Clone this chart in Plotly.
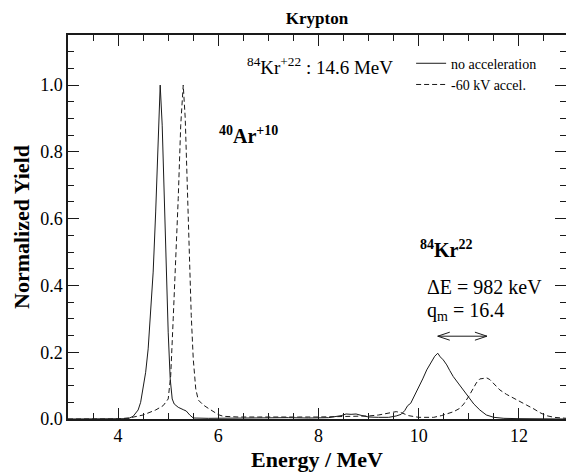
import plotly.graph_objects as go

# Energy spectra of the 84Kr+22 beam (14.6 MeV), normalized yield
energy_no_acc = [3.0, 4.0, 4.2, 4.3, 4.4, 4.45, 4.5, 4.55, 4.6, 4.65, 4.7, 4.75, 4.8, 4.84,
                 4.88, 4.92, 4.96, 5.0, 5.04, 5.08, 5.12, 5.2, 5.3, 5.36, 5.43, 5.5, 5.8,
                 6.2, 6.6, 7.0, 7.4, 7.8, 8.2, 8.45, 8.55, 8.65, 8.75, 8.85, 9.0, 9.2, 9.4,
                 9.55, 9.65, 9.72, 9.78, 9.84, 9.92, 10.0, 10.08, 10.16, 10.24, 10.32, 10.38,
                 10.43, 10.49, 10.56, 10.62, 10.69, 10.8, 10.9, 11.0, 11.1, 11.22, 11.35,
                 11.5, 11.7, 12.0, 12.5, 12.95]
yield_no_acc = [0.0, 0.0, 0.001, 0.008, 0.027, 0.05, 0.09, 0.14, 0.21, 0.32, 0.44, 0.62, 0.86,
                1.0, 0.88, 0.66, 0.42, 0.26, 0.12, 0.06, 0.045, 0.035, 0.028, 0.024, 0.012,
                0.003, 0.002, 0.003, 0.002, 0.003, 0.004, 0.003, 0.004, 0.010, 0.015, 0.014,
                0.015, 0.011, 0.006, 0.005, 0.005, 0.009, 0.014, 0.025, 0.04, 0.047, 0.07,
                0.097, 0.12, 0.147, 0.168, 0.188, 0.197, 0.186, 0.177, 0.162, 0.145, 0.127,
                0.105, 0.085, 0.066, 0.045, 0.027, 0.012, 0.005, 0.002, 0.001, 0.0, 0.0]

energy_acc = [3.0, 4.0, 4.25, 4.5, 4.75, 4.9, 5.0, 5.05, 5.1, 5.15, 5.2, 5.25, 5.3, 5.34,
              5.38, 5.42, 5.46, 5.5, 5.55, 5.6, 5.7, 5.8, 5.9, 6.0, 6.1, 6.4, 6.8, 7.2, 7.6,
              8.0, 8.4, 8.8, 9.0, 9.2, 9.4, 9.55, 9.65, 9.8, 10.0, 10.3, 10.45, 10.56, 10.7,
              10.82, 10.9, 11.0, 11.08, 11.15, 11.22, 11.3, 11.36, 11.42, 11.5, 11.62, 11.75,
              11.89, 12.0, 12.15, 12.3, 12.42, 12.55, 12.7, 12.95]
yield_acc = [0.0, 0.0, 0.004, 0.012, 0.027, 0.04, 0.06, 0.13, 0.30, 0.47, 0.66, 0.88, 1.0,
             0.90, 0.68, 0.46, 0.31, 0.18, 0.09, 0.057, 0.042, 0.032, 0.022, 0.013, 0.008,
             0.006, 0.006, 0.005, 0.006, 0.006, 0.007, 0.008, 0.009, 0.012, 0.019, 0.022,
             0.019, 0.01, 0.005, 0.005, 0.01, 0.015, 0.022, 0.032, 0.045, 0.068, 0.09,
             0.108, 0.12, 0.123, 0.123, 0.118, 0.105, 0.087, 0.074, 0.062, 0.055, 0.042,
             0.03, 0.019, 0.01, 0.005, 0.002]

series_names = ["no acceleration", "-60 kV accel."]

# Energy shift of the Kr peak between the two settings
kr_peak_energy = 10.38      # MeV, peak without acceleration
delta_e_kev = 982
q_m = 16.4
arrow_level = 0.248

SERIF = "Liberation Serif"
INK = "#1a1a1a"
X_RANGE = [3, 12.94]
Y_RANGE = [0, 1.15]


def serif(size):
    return dict(family=SERIF, size=size, color="black")


fig = go.Figure()
fig.add_trace(go.Scatter(x=energy_no_acc, y=yield_no_acc, mode="lines",
                         name=series_names[0],
                         line=dict(color=INK, width=1)))
fig.add_trace(go.Scatter(x=energy_acc, y=yield_acc, mode="lines",
                         name=series_names[1],
                         line=dict(color=INK, width=1, dash="5px,3px")))

# double-headed arrow spanning the energy shift
x1 = kr_peak_energy
x2 = kr_peak_energy + delta_e_kev / 1000.0
hx, hy = 0.24, 0.012
fig.add_trace(go.Scatter(
    x=[x1, x2, None, x1 + hx, x1, x1 + hx, None, x2 - hx, x2, x2 - hx],
    y=[arrow_level, arrow_level, None, arrow_level + hy, arrow_level, arrow_level - hy,
       None, arrow_level + hy, arrow_level, arrow_level - hy],
    mode="lines", line=dict(color=INK, width=1), showlegend=False, hoverinfo="skip"))

# invisible trace that carries the top/right frame axes
fig.add_trace(go.Scatter(x=[X_RANGE[0]], y=[Y_RANGE[0]], xaxis="x2", yaxis="y2",
                         mode="markers", marker=dict(opacity=0), showlegend=False,
                         hoverinfo="skip"))

annotations = [
    dict(x=8.03, y=1.057, text="<sup>84</sup>Kr<sup>+22</sup> : 14.6 MeV",
         font=serif(19), xanchor="center", yanchor="middle"),
    dict(x=6.61, y=0.85, text="<b><sup>40</sup>Ar<sup>+10</sup></b>",
         font=serif(20), xanchor="center", yanchor="middle"),
    dict(x=9.99, y=0.51, text="<b><sup>84</sup>Kr<sup>22</sup></b>",
         font=serif(20), xanchor="left", yanchor="middle"),
    dict(x=10.13, y=0.395, text=f"\u0394E = {delta_e_kev} keV",
         font=serif(20), xanchor="left", yanchor="middle"),
    dict(x=10.13, y=0.323, text=f"q<sub>m</sub> = {q_m}",
         font=serif(20), xanchor="left", yanchor="middle"),
]
for a in annotations:
    a.update(xref="x", yref="y", showarrow=False)

tick_common = dict(ticks="inside", ticklen=11, tickwidth=1, tickcolor=INK,
                   showgrid=False, zeroline=False)

fig.update_layout(
    width=566, height=472,
    margin=dict(l=68, r=0, t=35, b=53, autoexpand=False),
    paper_bgcolor="white", plot_bgcolor="white",
    font=serif(18),
    title=dict(text="<b>Krypton</b>", x=0.5, xref="paper", y=1 - 18 / 472,
               yref="container", xanchor="center", yanchor="middle",
               font=serif(17)),
    legend=dict(x=0.689, y=0.967, xanchor="left", yanchor="top",
                bgcolor="rgba(0,0,0,0)", borderwidth=0,
                font=serif(14), tracegroupgap=0),
    annotations=annotations,
    showlegend=True,
    xaxis=dict(range=X_RANGE, tick0=0, dtick=2, showline=True, linecolor=INK,
               linewidth=1.5, tickfont=serif(18),
               minor=dict(dtick=0.5, tick0=0, ticks="inside", ticklen=6,
                          tickcolor=INK, tickwidth=1, showgrid=False),
               title=dict(text="<b>Energy / MeV</b>", font=serif(22), standoff=6),
               **tick_common),
    yaxis=dict(range=Y_RANGE, tick0=0, dtick=0.2, tickformat=".1f", showline=True,
               linecolor=INK, linewidth=1.5, tickfont=serif(18),
               minor=dict(dtick=0.05, tick0=0, ticks="inside", ticklen=6,
                          tickcolor=INK, tickwidth=1, showgrid=False),
               title=dict(text="<b>Normalized Yield</b>", font=serif(22), standoff=4),
               **tick_common),
    xaxis2=dict(range=X_RANGE, overlaying="x", side="top", anchor="y2",
                tick0=0, dtick=2, showticklabels=False, showline=True,
                linecolor=INK, linewidth=1.5,
                minor=dict(dtick=0.5, tick0=0, ticks="inside", ticklen=6,
                           tickcolor=INK, tickwidth=1, showgrid=False),
                **tick_common),
    yaxis2=dict(range=Y_RANGE, overlaying="y", side="right", anchor="x2",
                tick0=0, dtick=0.2, showticklabels=False, showline=True,
                linecolor=INK, linewidth=1.5,
                minor=dict(dtick=0.05, tick0=0, ticks="inside", ticklen=6,
                           tickcolor=INK, tickwidth=1, showgrid=False),
                **tick_common),
)

fig.write_html("out.html")
